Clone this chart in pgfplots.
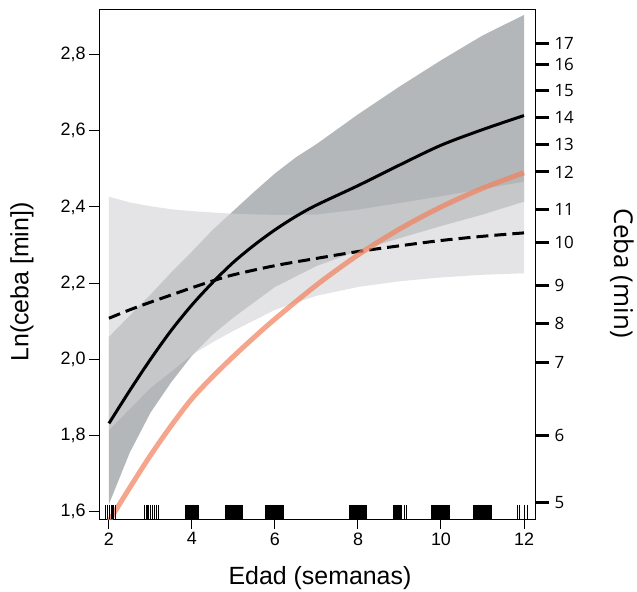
\documentclass[border=0pt]{standalone}
\usepackage{fontspec}
\setmainfont{Liberation Sans}
\newfontfamily\osans{Open Sans}
\usepackage{pgfplots}
\pgfplotsset{compat=1.18}
\definecolor{darkband}{RGB}{180,183,185}
\definecolor{lightband}{RGB}{210,210,213}
\definecolor{salmon}{RGB}{240,130,94}
\begin{document}
\begin{tikzpicture}
\useasboundingbox (-99bp,-73bp) rectangle (538bp,519bp);
\begin{axis}[
  at={(0,0)}, anchor=south west,
  width=436bp, height=509bp, scale only axis,
  xmin=1.76, xmax=12.265, ymin=1.581, ymax=2.917,
  axis line style={line width=1bp, black},
  xtick={2,4,6,8,10,12},
  ytick={1.6,1.8,2.0,2.2,2.4,2.6,2.8},
  xtick pos=lower, ytick pos=left,
  tick align=outside, major tick length=10bp,
  tick style={line width=1bp, black},
  tick label style={font=\fontsize{18}{18}\selectfont},
  /pgf/number format/assume math mode=true,
  yticklabel style={/pgf/number format/.cd, use comma, fixed, fixed zerofill, precision=1},
]
% dark band (CI of solid line)
\addplot[fill=darkband, draw=none] coordinates {
 (2,2.059) (2.5,2.115) (3,2.17) (3.5,2.228) (4,2.283) (4.5,2.34) (5,2.39) (5.5,2.44) (6,2.488) (6.5,2.53) (7,2.565) (8,2.643) (9,2.716) (10,2.785) (11,2.85) (12,2.904)
 (12,2.414) (11,2.38) (10,2.35) (9,2.318) (8,2.285) (7,2.245) (6,2.19) (5,2.11) (4.5,2.065) (4,2.01) (3.5,1.94) (3,1.86) (2.5,1.755) (2,1.62)
} -- cycle;
% light band (CI of dashed line)
\addplot[fill=lightband, fill opacity=0.6, draw=none] coordinates {
 (2,2.427) (2.5,2.412) (3,2.402) (3.5,2.394) (4,2.389) (5,2.382) (6,2.379) (7,2.38) (8,2.393) (9,2.41) (10,2.428) (11,2.447) (12,2.466)
 (12,2.226) (11,2.222) (10,2.215) (9,2.205) (8,2.19) (7,2.167) (6,2.13) (5,2.075) (4.5,2.045) (4,2.012) (3.5,1.968) (3,1.925) (2.5,1.87) (2,1.814)
} -- cycle;
% dashed line
\addplot[black, line width=3bp, smooth, dash pattern=on 12bp off 6bp] coordinates {
 (2,2.108) (2.5,2.13) (3,2.15) (3.5,2.169) (4,2.188) (4.5,2.206) (5,2.222) (6,2.246) (7,2.265) (8,2.283) (9,2.298) (10,2.312) (11,2.323) (12,2.332)
};
% solid line
\addplot[black, line width=3bp, smooth, line join=round] coordinates {
 (2,1.832) (2.5,1.918) (3,2.0) (3.5,2.076) (4,2.143) (4.5,2.202) (5,2.255) (5.5,2.3) (6,2.34) (6.5,2.375) (7,2.405) (8,2.456) (9,2.51) (10,2.562) (11,2.603) (12,2.64)
};
% salmon line
\addplot[salmon, opacity=0.72, line width=5bp, smooth, line join=round] coordinates {
 (2,1.575) (2.5,1.663) (3,1.748) (3.5,1.826) (4,1.897) (4.5,1.955) (5,2.008) (5.5,2.058) (6,2.106) (7,2.195) (8,2.274) (9,2.342) (10,2.4) (11,2.449) (12,2.49)
};
% rug
\addplot[black, only marks, mark=|, mark size=7bp, mark options={line width=1.3bp}] coordinates {
 (1.92,1.6) (1.96,1.6) (2.02,1.6) (2.06,1.6) (2.10,1.6) (2.16,1.6)
 (2.86,1.6) (2.90,1.6) (2.94,1.6) (3.00,1.6) (3.05,1.6) (3.09,1.6) (3.14,1.6) (3.19,1.6)
 (3.84,1.6) (3.86,1.6) (3.88,1.6) (3.90,1.6) (3.92,1.6) (3.94,1.6) (3.96,1.6) (3.98,1.6) (4.00,1.6) (4.02,1.6) (4.04,1.6) (4.06,1.6) (4.08,1.6) (4.10,1.6) (4.12,1.6) (4.14,1.6) (4.16,1.6)
 (4.80,1.6) (4.82,1.6) (4.84,1.6) (4.86,1.6) (4.88,1.6) (4.90,1.6) (4.92,1.6) (4.94,1.6) (4.96,1.6) (4.98,1.6) (5.00,1.6) (5.02,1.6) (5.04,1.6) (5.06,1.6) (5.08,1.6) (5.10,1.6) (5.12,1.6) (5.14,1.6) (5.16,1.6) (5.18,1.6) (5.20,1.6) (5.21,1.6)
 (5.78,1.6) (5.80,1.6) (5.82,1.6) (5.84,1.6) (5.86,1.6) (5.88,1.6) (5.90,1.6) (5.92,1.6) (5.94,1.6) (5.96,1.6) (5.98,1.6) (6.00,1.6) (6.02,1.6) (6.04,1.6) (6.06,1.6) (6.08,1.6) (6.10,1.6) (6.12,1.6) (6.14,1.6) (6.16,1.6) (6.18,1.6) (6.19,1.6)
 (7.80,1.6) (7.82,1.6) (7.84,1.6) (7.86,1.6) (7.88,1.6) (7.90,1.6) (7.92,1.6) (7.94,1.6) (7.96,1.6) (7.98,1.6) (8.00,1.6) (8.02,1.6) (8.04,1.6) (8.06,1.6) (8.08,1.6) (8.10,1.6) (8.12,1.6) (8.14,1.6) (8.16,1.6) (8.18,1.6) (8.20,1.6)
 (8.86,1.6) (8.88,1.6) (8.90,1.6) (8.92,1.6) (8.94,1.6) (8.96,1.6) (8.98,1.6) (9.00,1.6) (9.02,1.6) (9.04,1.6) (9.12,1.6) (9.17,1.6)
 (9.77,1.6) (9.79,1.6) (9.81,1.6) (9.83,1.6) (9.85,1.6) (9.87,1.6) (9.89,1.6) (9.91,1.6) (9.93,1.6) (9.95,1.6) (9.97,1.6) (9.99,1.6) (10.01,1.6) (10.03,1.6) (10.05,1.6) (10.07,1.6) (10.09,1.6) (10.11,1.6) (10.13,1.6) (10.15,1.6) (10.17,1.6) (10.19,1.6) (10.21,1.6)
 (10.79,1.6) (10.81,1.6) (10.83,1.6) (10.85,1.6) (10.87,1.6) (10.89,1.6) (10.91,1.6) (10.93,1.6) (10.95,1.6) (10.97,1.6) (10.99,1.6) (11.01,1.6) (11.03,1.6) (11.05,1.6) (11.07,1.6) (11.09,1.6) (11.11,1.6) (11.13,1.6) (11.15,1.6) (11.17,1.6) (11.19,1.6) (11.21,1.6) (11.22,1.6)
 (11.84,1.6) (11.89,1.6) (12.02,1.6) (12.08,1.6)
};
\end{axis}
\begin{axis}[
  at={(0,0)}, anchor=south west,
  width=436bp, height=509bp, scale only axis,
  xmin=1.76, xmax=12.265, ymin=1.581, ymax=2.917,
  axis x line=none, axis y line*=right,
  axis line style={line width=1bp, black},
  ytick={1.625,1.799,1.992,2.094,2.195,2.306,2.394,2.492,2.565,2.635,2.705,2.774,2.830},
  yticklabels={5,6,7,8,9,10,11,12,13,14,15,16,17},
  tick align=outside, major tick length=14bp,
  ytick style={line width=3bp, black},
  yticklabel style={font=\osans\fontsize{17}{17}\selectfont, xshift=2bp},
]
\end{axis}
\node[rotate=90, font=\fontsize{25}{25}\selectfont] at (-77bp,237bp) {Ln(ceba [min])};
\node[font=\fontsize{25}{25}\selectfont] at (221bp,-59bp) {Edad (semanas)};
\node[rotate=-90, font=\osans\fontsize{26}{26}\selectfont] at (523bp,246bp) {Ceba (min)};
\end{tikzpicture}
\end{document}
